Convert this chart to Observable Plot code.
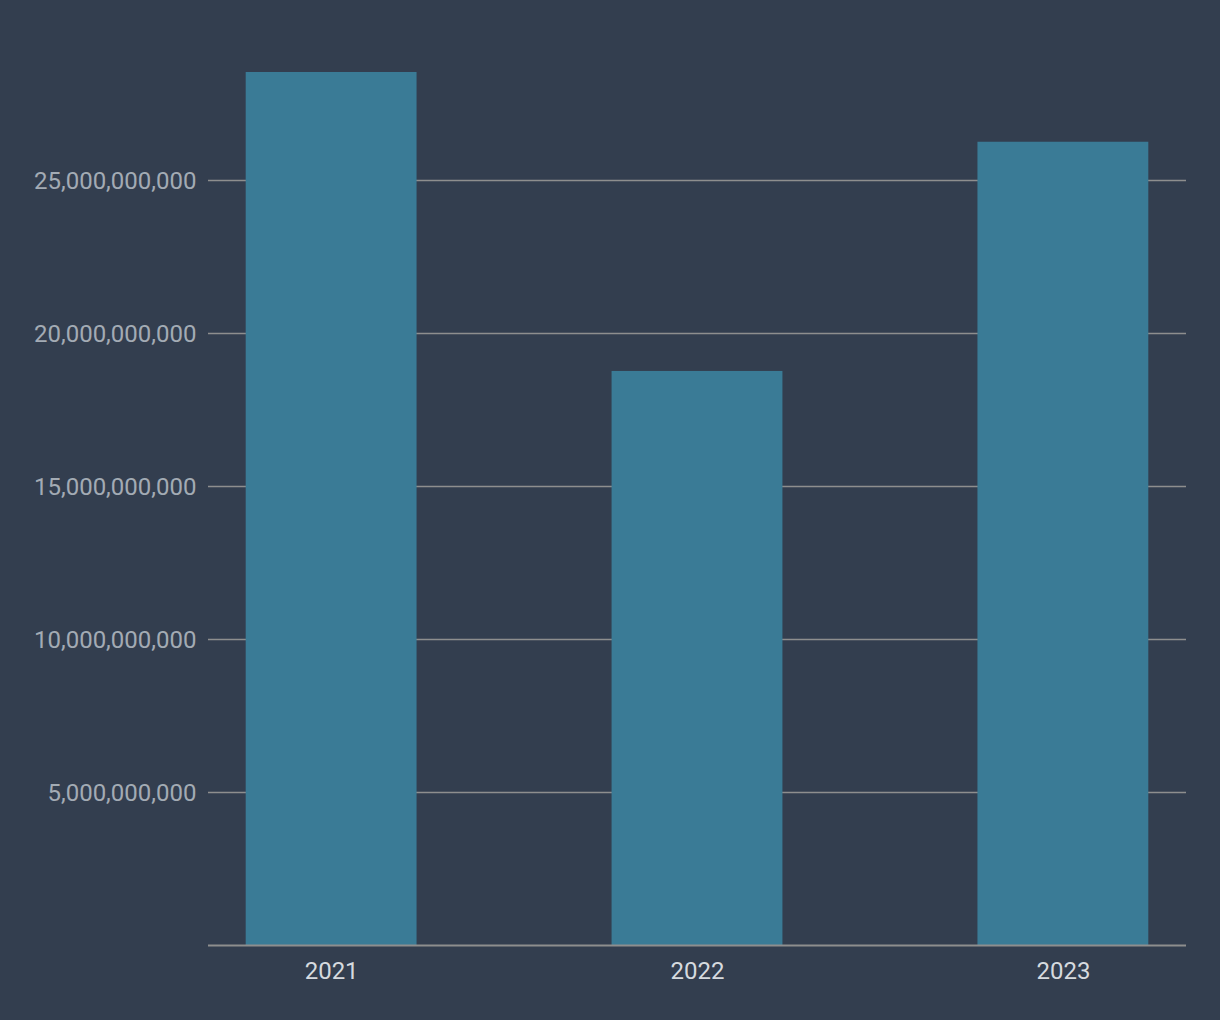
<!DOCTYPE html>
<html>
<head>
<meta charset="utf-8">
<script src="https://cdn.jsdelivr.net/npm/d3@7"></script>
<script src="https://cdn.jsdelivr.net/npm/@observablehq/plot@0.6"></script>
<style>
  html, body { margin: 0; padding: 0; background: #333e4f; }
  #chart svg { display: block; }
</style>
</head>
<body>
<div id="chart"></div>
<script>
const years = ["2021", "2022", "2023"];
const values = [28530000000, 18760000000, 26250000000];
const yTicks = [5000000000, 10000000000, 15000000000, 20000000000, 25000000000];

const data = years.map((y, i) => ({year: y, value: values[i]}));

const chart = Plot.plot({
  width: 1220,
  height: 1020,
  marginLeft: 208,
  marginRight: 34,
  marginTop: 27,
  marginBottom: 75,
  style: {background: "#333e4f", fontFamily: "Roboto, sans-serif"},
  x: {domain: years, paddingInner: 0.533, paddingOuter: 0.103, round: false, label: null},
  y: {domain: [0, 30000000000], label: null},
  marks: [
    Plot.ruleY(yTicks, {stroke: "#8e8e8e", strokeWidth: 1.5}),
    Plot.barY(data, {x: "year", y: "value", fill: "#3a7b96"}),
    Plot.ruleY([0], {stroke: "#8e8e8e", strokeWidth: 2}),
    Plot.axisY(yTicks, {tickSize: 0, tickPadding: 12, dy: 0.5, tickFormat: d3.format(","), fontSize: 24, fill: "#a3abb4", label: null}),
    Plot.axisX({tickSize: 0, tickPadding: 16, fontSize: 24, fill: "#d6dadf", label: null})
  ]
});
document.getElementById("chart").appendChild(chart);
</script>
</body>
</html>
